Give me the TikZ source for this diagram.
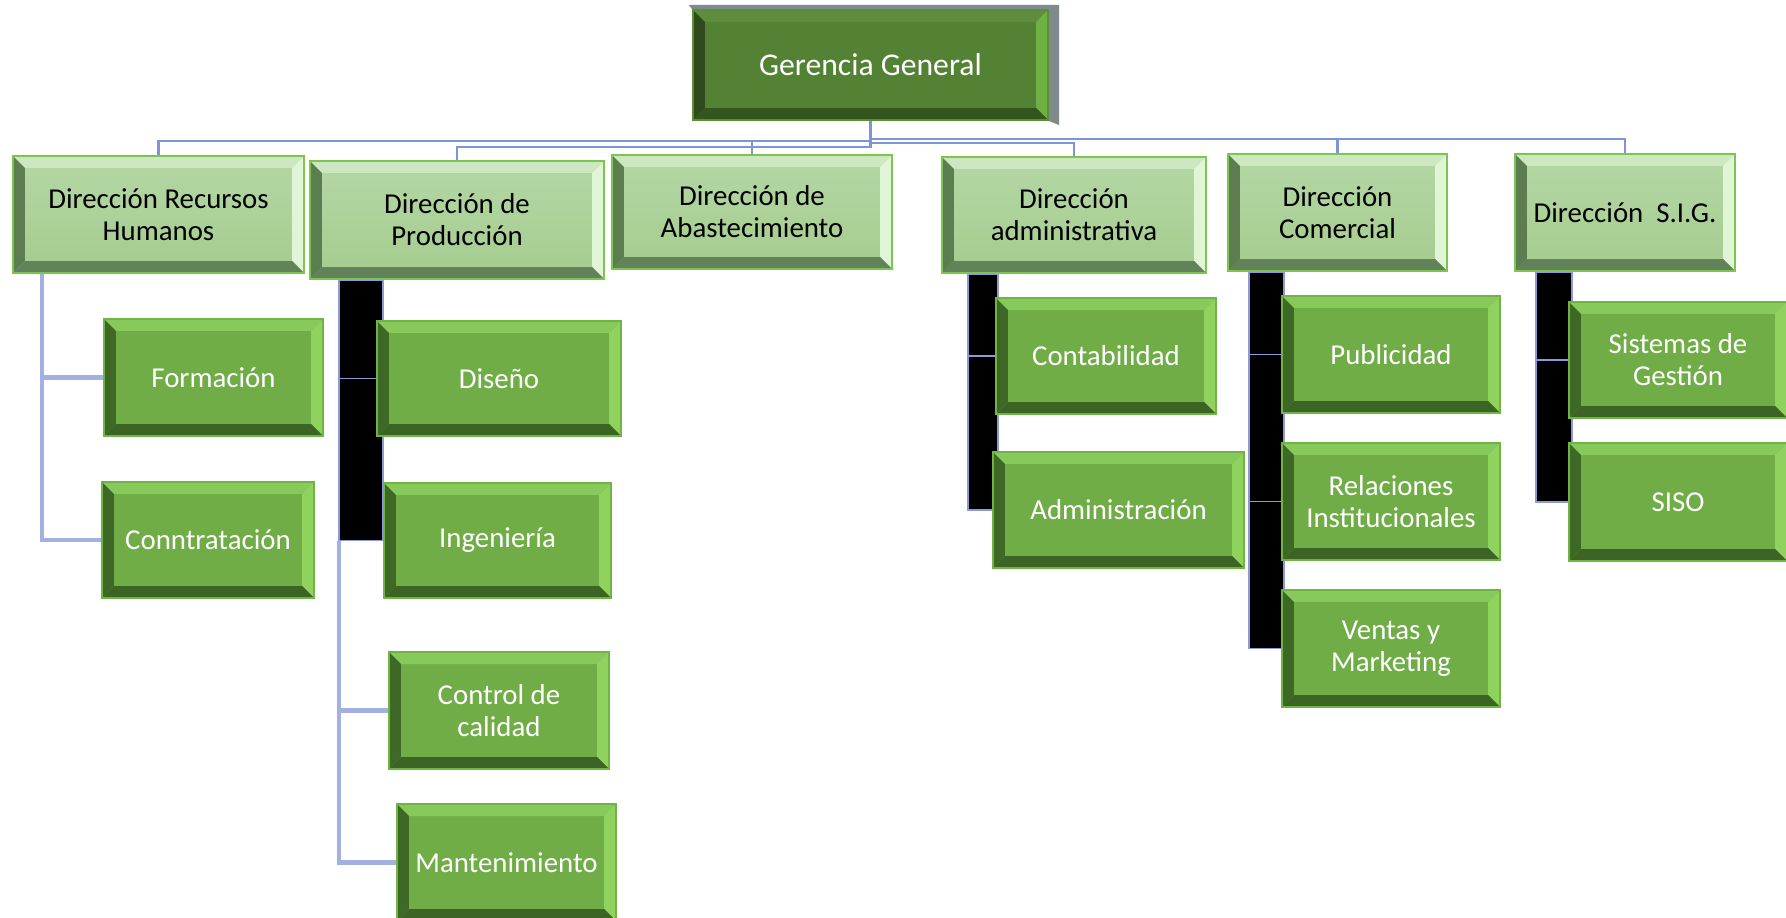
\documentclass[tikz,border=0pt]{standalone}
\usepackage{fontspec}
\setmainfont{Carlito}
\usetikzlibrary{backgrounds,calc}

\definecolor{busblue}{HTML}{7B95D6}
\definecolor{lavline}{HTML}{A3B0E2}
\definecolor{thinblue}{HTML}{8C9AD8}
\definecolor{ggshade}{HTML}{7F8A8C}
\definecolor{ggface}{HTML}{548235}
\definecolor{ggtop}{HTML}{5E8E3D}
\definecolor{ggleft}{HTML}{2F4B1E}
\definecolor{ggbot}{HTML}{35551F}
\definecolor{ggright}{HTML}{6FB043}
\definecolor{ggedge}{HTML}{5A8F38}
\definecolor{dirfacetop}{HTML}{B4D7A5}
\definecolor{dirfacebot}{HTML}{A5CC8E}
\definecolor{dirtop}{HTML}{CDE8C1}
\definecolor{dirleft}{HTML}{5B7D50}
\definecolor{dirbot}{HTML}{62835A}
\definecolor{dirright}{HTML}{E0F4D6}
\definecolor{diredge}{HTML}{7DC451}
\definecolor{unitface}{HTML}{70AD47}
\definecolor{unittop}{HTML}{88C95C}
\definecolor{unitleft}{HTML}{3D6826}
\definecolor{unitbot}{HTML}{3B6425}
\definecolor{unitright}{HTML}{8FD35E}
\definecolor{unitedge}{HTML}{6FB445}

\def\bevw{0.12cm}

\tikzset{
  bevel/.style n args={4}{% top, left, bottom, right
    path picture={
      \coordinate (bsw) at (path picture bounding box.south west);
      \coordinate (bne) at (path picture bounding box.north east);
      \coordinate (bnw) at (bsw |- bne);
      \coordinate (bse) at (bne |- bsw);
      \fill[#1] (bnw) -- (bne) -- ($(bne)+(-\bevw,-\bevw)$) -- ($(bnw)+(\bevw,-\bevw)$) -- cycle;
      \fill[#4] (bne) -- (bse) -- ($(bse)+(-\bevw,\bevw)$) -- ($(bne)+(-\bevw,-\bevw)$) -- cycle;
      \fill[#3] (bse) -- (bsw) -- ($(bsw)+(\bevw,\bevw)$) -- ($(bse)+(-\bevw,\bevw)$) -- cycle;
      \fill[#2] (bsw) -- (bnw) -- ($(bnw)+(\bevw,-\bevw)$) -- ($(bsw)+(\bevw,\bevw)$) -- cycle;
    }
  },
  wh/.style 2 args={minimum width=#1, minimum height=#2},
  topbox/.style={draw=ggedge, line width=0.6pt, fill=ggface,
    bevel={ggtop}{ggleft}{ggbot}{ggright}, text=white, inner sep=0pt,
    align=center, font=\fontsize{9}{10.5}\selectfont},
  dirbox/.style={draw=diredge, line width=0.6pt, top color=dirfacetop,
    bottom color=dirfacebot, bevel={dirtop}{dirleft}{dirbot}{dirright},
    text=black, inner sep=0pt, align=center,
    font=\fontsize{8.2}{9.1}\selectfont},
  unitbox/.style={draw=unitedge, line width=0.6pt, fill=unitface,
    bevel={unittop}{unitleft}{unitbot}{unitright}, text=white,
    inner sep=0pt, align=center, font=\fontsize{8.2}{9.1}\selectfont},
  bus/.style={draw=busblue, line width=0.6pt},
  subline/.style={draw=lavline, line width=1.3pt},
  thinline/.style={draw=thinblue, line width=0.5pt},
  bar/.style={fill=black, draw=thinblue, line width=0.5pt},
}

\begin{document}
\begin{tikzpicture}[x=0.01cm, y=-0.01cm]
\useasboundingbox (0,0) rectangle (1786,917);

% gerencia
\node[topbox, wh={3.55cm}{1.10cm}] (gg) at (870.5,65) {Gerencia General};

% direcciones
\node[dirbox, wh={2.91cm}{1.17cm}] (drh) at (158.5,214.5) {Dirección Recursos\\Humanos};
\node[dirbox, wh={2.94cm}{1.18cm}] (dp) at (457,220) {Dirección de\\Producción};
\node[dirbox, wh={2.80cm}{1.14cm}] (da) at (752,212) {Dirección de\\Abastecimiento};
\node[dirbox, wh={2.64cm}{1.16cm}] (dadm) at (1074,215) {Dirección\\administrativa};
\node[dirbox, wh={2.19cm}{1.17cm}] (dc) at (1337.5,212.5) {Dirección\\Comercial};
\node[dirbox, wh={2.20cm}{1.17cm}] (dsig) at (1625,212.5) {Dirección\ \ S.I.G.};

% areas
\node[unitbox, wh={2.19cm}{1.17cm}] (form) at (213.5,377.5) {Formación};
\node[unitbox, wh={2.12cm}{1.16cm}] (contr) at (208,540) {Conntratación};
\node[unitbox, wh={2.44cm}{1.15cm}] (dis) at (499,378.5) {Diseño};
\node[unitbox, wh={2.27cm}{1.15cm}] (ing) at (497.5,540.5) {Ingeniería};
\node[unitbox, wh={2.20cm}{1.17cm}] (cc) at (499,710.5) {Control de\\calidad};
\node[unitbox, wh={2.19cm}{1.17cm}] (mant) at (506.5,862.5) {Mantenimiento};
\node[unitbox, wh={2.20cm}{1.16cm}] (contab) at (1106,356) {Contabilidad};
\node[unitbox, wh={2.51cm}{1.16cm}] (adm) at (1118.5,510) {Administración};
\node[unitbox, wh={2.18cm}{1.17cm}] (pub) at (1391,354.5) {Publicidad};
\node[unitbox, wh={2.18cm}{1.17cm}] (rel) at (1391,501.5) {Relaciones\\Institucionales};
\node[unitbox, wh={2.18cm}{1.17cm}] (ven) at (1391,648.5) {Ventas y\\Marketing};
\node[unitbox, wh={2.18cm}{1.16cm}] (sg) at (1678,360) {Sistemas de\\Gestión};
\node[unitbox, wh={2.18cm}{1.18cm}] (siso) at (1678,502) {SISO};

\begin{scope}[on background layer]
\fill[white] (0,0) rectangle (1786,917);
\fill[ggshade] ($(gg.north west)+(-3,-4)$) -- ($(gg.north east)+(10,-4)$)
  -- ($(gg.south east)+(10,4)$) -- (gg.south east) -- (gg.north west) -- cycle;

% bus from the top
\draw[bus] (gg.south) -- ++(0,20) -| (drh.north);
\draw[bus] (gg.south) -- ++(0,26) -| (dp.north);
\draw[bus] (gg.south) -- ++(0,20) -| (da.north);
\draw[bus] (gg.south) -- ++(0,22) -| (dadm.north);
\draw[bus] (gg.south) -- ++(0,18) -| (dc.north);
\draw[bus] (gg.south) -- ++(0,18) -| (dsig.north);

% recursos humanos
\coordinate (drhT) at ($(drh.south west)+(30,0)$);
\draw[subline] (drhT) |- (form.west);
\draw[subline] (drhT) |- (contr.west);

% produccion
\coordinate (dpT) at ($(dp.south west)+(30,0)$);
\filldraw[bar] (dpT) rectangle (ing.west);
\draw[thinline] (dpT) |- (dis.west);
\coordinate (dpB) at (dpT |- ing.west);
\draw[subline] (dpB) |- (cc.west);
\draw[subline] (dpB) |- (mant.west);

% administrativa
\coordinate (dadmT) at ($(dadm.south west)+(27,0)$);
\filldraw[bar] (dadmT) rectangle ($(adm.west)+(6,0)$);
\draw[thinline] (dadmT) |- (contab.west);

% comercial
\coordinate (dcT) at ($(dc.south west)+(22,0)$);
\filldraw[bar] (dcT) rectangle ($(ven.west)+(3,0)$);
\draw[thinline] (dcT) |- (pub.west);
\draw[thinline] (dcT) |- (rel.west);

% sig
\coordinate (dsigT) at ($(dsig.south west)+(22,0)$);
\filldraw[bar] (dsigT) rectangle ($(siso.west)+(4,0)$);
\draw[thinline] (dsigT) |- (sg.west);
\end{scope}
\end{tikzpicture}
\end{document}
